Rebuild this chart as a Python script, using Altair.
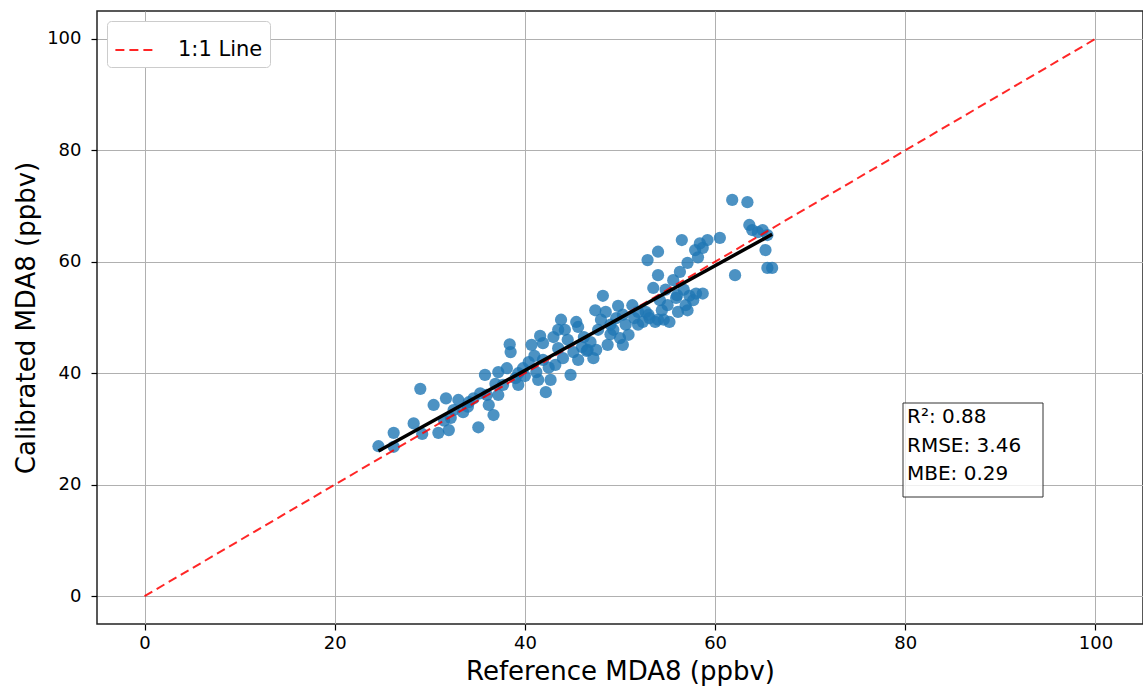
import altair as alt
import pandas as pd
import numpy as np

ref_x = [24.6, 26.2, 26.2, 29.0, 29.2, 30.4, 30.9, 31.7, 32.0, 32.2, 32.5, 33.0, 33.5, 34.1, 34.6,
         35.1, 35.3, 35.8, 36.2, 36.7, 36.9, 37.2, 37.7, 38.1, 38.5, 38.4, 39.0, 39.3, 39.8, 40.4,
         40.7, 41.0, 41.2, 41.4, 41.6, 41.9, 42.2, 42.7, 43.0, 43.2, 43.5, 43.8, 44.0, 44.2, 44.5,
         44.8, 45.1, 45.4, 45.6, 46.0, 46.2, 46.6, 46.9, 47.2, 47.4, 47.7, 48.0, 48.2, 48.5, 48.7,
         49.0, 49.3, 49.6, 49.8, 50.0, 50.3, 50.6, 50.9, 51.3, 51.5, 51.9, 52.4, 52.7, 52.9, 53.1,
         53.5, 53.7, 54.0, 54.0, 54.2, 54.4, 54.6, 54.8, 55.0, 55.2, 55.6, 55.9, 56.1, 56.3, 56.5,
         56.7, 56.9, 57.1, 57.3, 57.7, 57.9, 58.0, 58.2, 58.4, 58.7, 59.2, 60.5, 61.8, 62.1, 63.4,
         63.6, 63.9, 64.5, 65.0, 65.3, 65.5, 66.0, 65.5, 37.2, 36.0, 41.9, 39.3, 45.6, 47.5, 43.5,
         50.3, 51.9, 54.0, 57.1, 58.7, 28.3, 31.5, 34.0, 40.0, 42.5, 46.5, 49.0, 53.0, 56.0]
cal_y = [26.9, 29.3, 26.8, 37.2, 29.1, 34.3, 29.3, 35.5, 29.8, 32.0, 33.4, 35.2, 33.0, 34.8, 35.5,
         30.3, 36.4, 39.7, 34.3, 32.5, 38.1, 40.2, 37.9, 40.9, 43.8, 45.2, 39.1, 37.9, 40.9, 42.0,
         45.1, 43.1, 40.2, 38.8, 46.7, 45.4, 36.6, 38.8, 46.5, 41.5, 44.5, 49.6, 42.7, 47.8, 46.0,
         39.7, 43.8, 49.2, 48.3, 44.7, 46.5, 44.2, 45.6, 42.7, 51.3, 47.8, 49.6, 53.9, 51.0, 45.1,
         48.7, 47.8, 49.9, 52.1, 46.3, 50.5, 48.7, 46.9, 52.2, 49.9, 51.0, 49.2, 51.0, 60.3, 49.9,
         55.3, 49.2, 61.8, 57.6, 53.1, 51.3, 49.6, 55.0, 52.2, 49.2, 56.7, 53.5, 51.0, 58.2, 63.9,
         55.0, 52.2, 59.8, 53.9, 53.1, 62.1, 54.3, 60.8, 63.3, 62.5, 63.9, 64.3, 71.1, 57.6, 70.7,
         66.6, 65.7, 65.3, 65.7, 62.1, 58.9, 58.9, 64.8, 36.1, 36.1, 42.4, 40.0, 42.4, 44.2, 47.8,
         45.1, 48.7, 49.6, 51.3, 54.3, 31.0, 31.5, 34.0, 39.5, 41.0, 44.0, 47.0, 50.5, 54.0]

line_x = [0, 100]
line_y = [0, 100]
line_label = "1:1 Line"
stats_text = ["R\u00b2: 0.88", "RMSE: 3.46", "MBE: 0.29"]
ticks = [0, 20, 40, 60, 80, 100]

pts = pd.DataFrame({"ref": ref_x, "cal": cal_y})
slope, intercept = np.polyfit(ref_x, cal_y, 1)
fx = [min(ref_x), max(ref_x)]
fit = pd.DataFrame({"ref": fx, "cal": [slope * v + intercept for v in fx]})
one = pd.DataFrame({"ref": line_x, "cal": line_y, "label": [line_label] * 2})

FONT = "DejaVu Sans"
xs = alt.Scale(domain=[-5, 105], nice=False, zero=False)
ys = alt.Scale(domain=[-5, 105], nice=False, zero=False)

x_axis = alt.Axis(values=ticks, title="Reference MDA8 (ppbv)", labelPadding=4, titlePadding=6)
y_axis = alt.Axis(values=ticks, title="Calibrated MDA8 (ppbv)", labelPadding=10, titlePadding=7)

scatter = alt.Chart(pts).mark_circle(size=150, color="#1f77b4", opacity=0.8).encode(
    x=alt.X("ref:Q", scale=xs, axis=x_axis),
    y=alt.Y("cal:Q", scale=ys, axis=y_axis),
)

oneline = alt.Chart(one).mark_line(strokeDash=[9, 5], strokeWidth=2, opacity=0.85).encode(
    x=alt.X("ref:Q", scale=xs),
    y=alt.Y("cal:Q", scale=ys),
    color=alt.Color("label:N", scale=alt.Scale(domain=[line_label], range=["#ff0000"]),
                    legend=alt.Legend(title=None, orient="top-left", offset=10,
                                      symbolType="stroke", symbolSize=1700, symbolStrokeWidth=2,
                                      symbolDash=[9, 5], symbolOpacity=0.85,
                                      labelFontSize=21, labelFont=FONT, labelColor="#000",
                                      padding=7, strokeColor="#cccccc", fillColor="white",
                                      cornerRadius=4, labelOffset=20)),
)

fitline = alt.Chart(fit).mark_line(color="black", strokeWidth=3.5).encode(
    x=alt.X("ref:Q", scale=xs),
    y=alt.Y("cal:Q", scale=ys),
)

box = alt.Chart(pd.DataFrame({"a": [0]})).mark_rect(
    fill="white", stroke="#333333", strokeWidth=1, fillOpacity=0.8
).encode(x=alt.value(806), x2=alt.value(946), y=alt.value(392), y2=alt.value(486))

stats = alt.Chart(pd.DataFrame({"a": [0]})).mark_text(
    text=stats_text, align="left", baseline="top", fontSize=20, font=FONT,
    lineHeight=28.5, color="black"
).encode(x=alt.value(810), y=alt.value(396))

chart = alt.layer(scatter, oneline, fitline, box, stats).properties(
    width=1046, height=613,
    autosize=alt.AutoSizeParams(type="none"),
    padding={"left": 97, "top": 11, "right": 0, "bottom": 70},
    background="white",
).configure_view(stroke="#222222", strokeWidth=1.5).configure_axis(
    domain=False, grid=True, gridColor="#b0b0b0", gridWidth=1,
    tickColor="#000", tickSize=6, tickWidth=1.2,
    labelFont=FONT, labelFontSize=18, labelColor="#000",
    titleFont=FONT, titleFontSize=26, titleFontWeight="normal", titleColor="#000",
)

chart.save("out.html", embed_options={"renderer": "svg", "actions": False})
